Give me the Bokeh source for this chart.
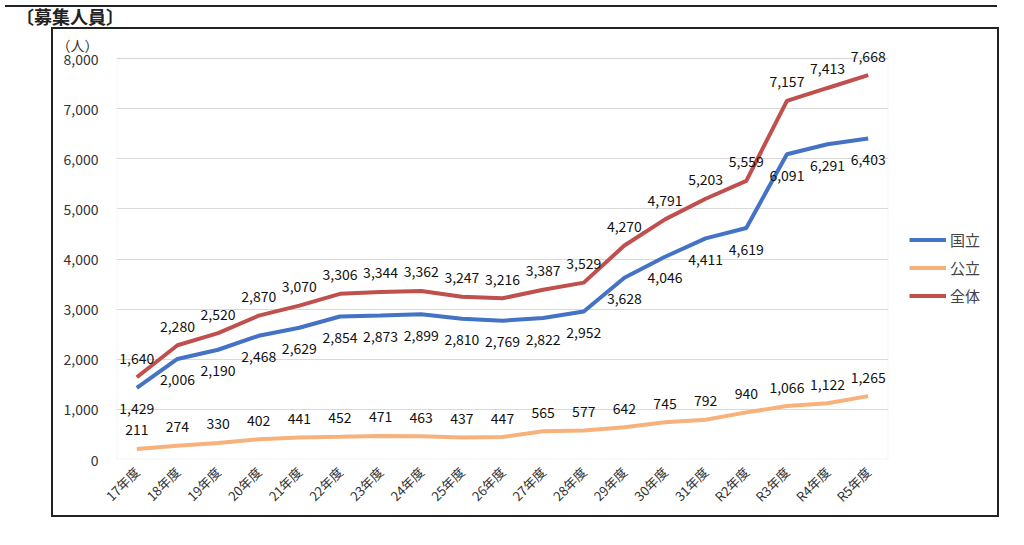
import math
from bokeh.plotting import figure
from bokeh.models import (ColumnDataSource, FactorRange, Range1d, NumeralTickFormatter,
                          Legend, LegendItem, Div, BoxAnnotation)
from bokeh.layouts import column, row
from bokeh.core.properties import value
from bokeh.embed import file_html
from bokeh.resources import INLINE

years = ["17年度", "18年度", "19年度", "20年度", "21年度", "22年度", "23年度", "24年度",
         "25年度", "26年度", "27年度", "28年度", "29年度", "30年度", "31年度",
         "R2年度", "R3年度", "R4年度", "R5年度"]
kokuritsu = [1429, 2006, 2190, 2468, 2629, 2854, 2873, 2899, 2810, 2769, 2822, 2952,
             3628, 4046, 4411, 4619, 6091, 6291, 6403]
kouritsu = [211, 274, 330, 402, 441, 452, 471, 463, 437, 447, 565, 577, 642, 745, 792,
            940, 1066, 1122, 1265]
zentai = [1640, 2280, 2520, 2870, 3070, 3306, 3344, 3362, 3247, 3216, 3387, 3529,
          4270, 4791, 5203, 5559, 7157, 7413, 7668]
series_names = ["国立", "公立", "全体"]
y_ticks = [0, 1000, 2000, 3000, 4000, 5000, 6000, 7000, 8000]
unit_label = "（人）"
y_max = 8000

FONT = "Noto Sans CJK JP"
colors = {"国立": "#4472C4", "公立": "#F7B27C", "全体": "#C0504D"}

# main chart: extra headroom above 8,000 so the top data labels are not clipped
UNIT_POS = 8280
p = figure(frame_width=772, frame_height=421,
           x_range=FactorRange(*years, range_padding=0),
           y_range=Range1d(0, 8400), output_backend="svg", toolbar_location=None,
           min_border_left=63, min_border_right=10, min_border_top=9,
           min_border_bottom=55)
p.outline_line_color = None
p.xgrid.grid_line_color = None
p.ygrid.ticker = y_ticks
p.ygrid.grid_line_color = "#d9d9d9"
p.ygrid.grid_line_width = 1
p.add_layout(BoxAnnotation(bottom=0, top=y_max, fill_alpha=0, line_color="#d9d9d9",
                           line_width=2, level="underlay"))

p.yaxis.ticker = y_ticks + [UNIT_POS]
p.yaxis.formatter = NumeralTickFormatter(format="0,0")
p.yaxis.major_label_overrides = {UNIT_POS: unit_label}
for ax in (p.xaxis[0], p.yaxis[0]):
    ax.axis_line_color = None
    ax.major_tick_line_color = None
    ax.minor_tick_line_color = None
    ax.major_label_text_font = FONT
    ax.major_label_text_color = "#333333"
p.yaxis.major_label_text_font_size = "14px"
p.yaxis.major_label_standoff = 12
p.xaxis.major_label_text_font_size = "13px"
p.xaxis.major_label_orientation = math.pi / 4
p.xaxis.major_label_standoff = 4

src = ColumnDataSource(dict(x=years, kok=kokuritsu, kou=kouritsu, zen=zentai,
                            kok_t=[f"{v:,}" for v in kokuritsu],
                            kou_t=[f"{v:,}" for v in kouritsu],
                            zen_t=[f"{v:,}" for v in zentai]))

p.line("x", "kok", source=src, line_color=colors["国立"], line_width=4)
p.line("x", "kou", source=src, line_color=colors["公立"], line_width=4)
p.line("x", "zen", source=src, line_color=colors["全体"], line_width=4)

common = dict(text_font=value(FONT), text_font_size="14px", text_color="#111111",
              text_align="center", text_baseline="middle")
p.text("x", "zen", text="zen_t", source=src, y_offset=-19, **common)
p.text("x", "kok", text="kok_t", source=src, y_offset=21, **common)
p.text("x", "kou", text="kou_t", source=src, y_offset=-19, **common)

# legend panel (separate small canvas to the right of the plot area)
lf = figure(width=99, height=485, output_backend="svg", toolbar_location=None,
            x_axis_location=None, y_axis_location=None, min_border=0)
lf.outline_line_color = None
lf.grid.grid_line_color = None
lr = []
for name, vals in zip(series_names, [kokuritsu, kouritsu, zentai]):
    lr.append(lf.line(list(range(len(vals))), vals, line_color=colors[name],
                      line_width=4, visible=False))
legend = Legend(items=[LegendItem(label=n, renderers=[r]) for n, r in zip(series_names, lr)],
                location=(11, 150), margin=0, padding=10, spacing=3,
                glyph_width=37, glyph_height=25, label_height=25, label_standoff=4,
                label_text_font=FONT, label_text_font_size="15px",
                label_text_color="#444444", border_line_color=None,
                background_fill_alpha=0, inactive_fill_alpha=0)
lf.add_layout(legend, "center")

title = Div(text="〔募集人員〕", width=992, height=17,
            styles={"border-top": "2px solid #222222", "font-family": FONT,
                    "font-size": "18px", "font-weight": "bold", "color": "#222222",
                    "padding-left": "11px", "line-height": "18px",
                    "box-sizing": "border-box"})

box = row(p, lf, spacing=0, margin=(0, 0, 0, 51),
          styles={"border": "2px solid #222222"})
layout = column(title, box, spacing=0)
open("out.html", "w").write(file_html(layout, INLINE))
